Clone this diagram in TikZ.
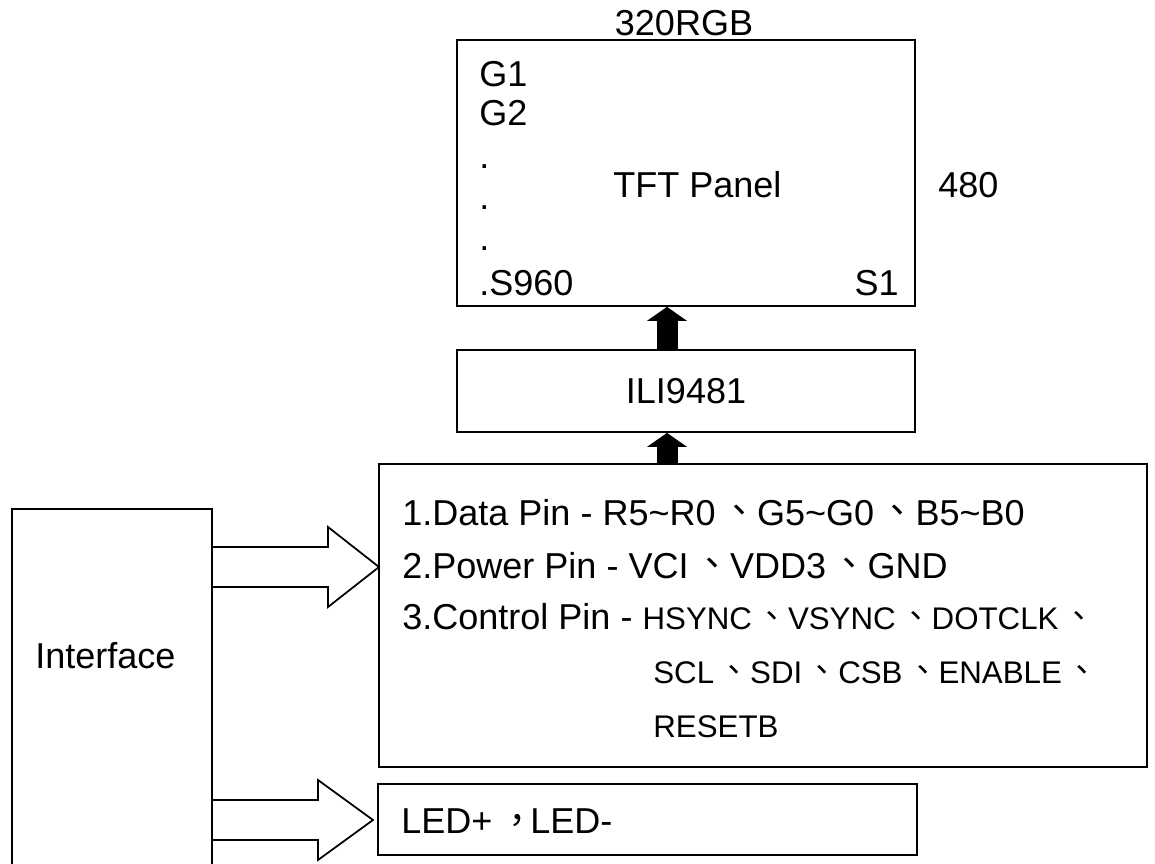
\documentclass[tikz,border=0pt]{standalone}
\usepackage{fontspec}
\setmainfont{Liberation Sans}
\newfontfamily\cjk{Noto Sans CJK TC}
\usetikzlibrary{arrows.meta,calc}

% CJK marks set in the middle of their cell
\newcommand{\dunhao}{\makebox[1.15em][l]{\hspace{0.15em}\raisebox{0.05em}{\cjk 、}}}
\newcommand{\douhao}{\makebox[1.05em][l]{\hspace{0.2em}{\cjk ，}}}
\newcommand{\sigfont}{\fontsize{17.8}{21}\selectfont}
% hollow block arrow: start, tip, head length
\newcommand{\fatarrow}[3]{%
  \draw[hollow] ($(#1)+(0,-20)$) -- ($(#2)+(-#3,-20)$) -- ($(#2)+(-#3,-40)$)
    -- (#2) -- ($(#2)+(-#3,40)$) -- ($(#2)+(-#3,20)$) -- ($(#1)+(0,20)$);}

\begin{document}
\begin{tikzpicture}[x=0.02cm,y=-0.02cm,
    font=\fontsize{20.5}{24}\selectfont,
    box/.style={draw,line width=1pt,inner sep=0pt},
    txt/.style={inner sep=0pt,anchor=base west},
    hollow/.style={line width=1pt,line join=miter},
    blk/.style={line width=0.42cm,-{Triangle[width=0.8cm,length=0.28cm,line width=0pt]}}]
  \useasboundingbox (0,0) rectangle (1155,863);
  \clip (0,0) rectangle (1155,863);

  % panel
  \node[box,minimum width=9.16cm,minimum height=5.32cm] (panel) at (686,173) {};
  \node[inner sep=0pt,anchor=base] (rgb) at (684,35) {320RGB};
  \node[txt] (g1) at (479,86) {G1};
  \node[txt] (g2) at (479,125) {G2};
  \foreach \y [count=\i] in {168,209,250}
    \node[txt] (dot\i) at (479,\y) {.};
  \node[txt] (s960) at (479,295) {.S960};
  \node[inner sep=0pt,anchor=base east] (s1) at (899,295) {S1};
  \node[txt] (tft) at (613,197) {TFT Panel};
  \node[txt] (lines) at (938,197) {480};

  % driver
  \node[box,minimum width=9.16cm,minimum height=1.64cm] (ili) at (686,391) {ILI9481};

  % pins
  \node[box,minimum width=15.36cm,minimum height=6.06cm] (pins) at (763,615.5) {};
  \node[txt] (p1) at (402,525) {1.Data Pin - R5\textasciitilde R0\dunhao G5\textasciitilde G0\dunhao B5\textasciitilde B0};
  \node[txt] (p2) at (402,578) {2.Power Pin - VCI\dunhao VDD3\dunhao GND};
  \node[txt] (p3) at (402,629) {3.Control Pin - {\sigfont HSYNC\dunhao VSYNC\dunhao DOTCLK\dunhao}};
  \node[txt,font=\sigfont] (p4) at (653,683) {SCL\dunhao SDI\dunhao CSB\dunhao ENABLE\dunhao};
  \node[txt,font=\sigfont] (p5) at (653,737) {RESETB};

  % backlight
  \node[box,minimum width=10.78cm,minimum height=1.42cm] (led) at (647.5,819.5) {};
  \node[txt] (ledtxt) at (401,833) {LED+\douhao LED-};

  % interface
  \node[box,minimum width=4cm,minimum height=7.82cm] (ifbox) at (112,704.5) {};
  \node[txt] (iface) at (35,668) {Interface};

  % arrows
  \coordinate (ax) at (667,0);
  \draw[blk] (ax |- ili.north) -- (ax |- panel.south);
  \draw[blk] (ax |- pins.north) -- (ax |- ili.south);
  \coordinate (s1) at (212,567); \coordinate (t1) at (379,567);
  \coordinate (s2) at (212,820); \coordinate (t2) at (373,820);
  \fatarrow{s1}{t1}{51}
  \fatarrow{s2}{t2}{55}
\end{tikzpicture}
\end{document}
